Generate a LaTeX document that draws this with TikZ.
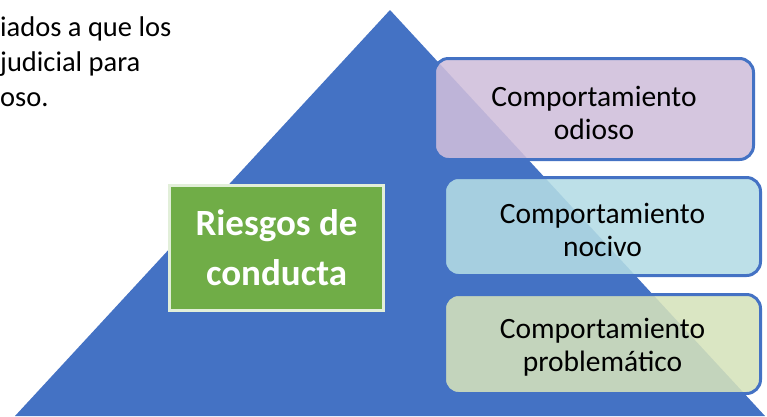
\documentclass[tikz,border=0pt]{standalone}
\usepackage{fontspec}
\setmainfont{Carlito}
\usetikzlibrary{positioning}
\definecolor{pyrblue}{HTML}{4472C4}
\definecolor{riskgreen}{HTML}{70AD47}
\definecolor{greenrim}{HTML}{E2EFD9}
\definecolor{odiofill}{RGB}{207,190,219}
\definecolor{nocifill}{RGB}{180,220,229}
\definecolor{probfill}{RGB}{213,226,187}

\begin{document}
\begin{tikzpicture}[x=1pt, y=-1pt,
  level/.style={draw=pyrblue, line width=3pt, rounded corners=14pt, fill opacity=0.88,
    inner sep=0pt, minimum width=316pt, minimum height=99pt},
  lvltext/.style={align=center, inner sep=0pt, font=\fontsize{29.5}{33}\selectfont},
  core/.style={draw=greenrim, line width=3pt, fill=riskgreen, text=white, align=center, inner sep=0pt,
    minimum width=214pt, minimum height=125pt, font=\bfseries\fontsize{37}{50}\selectfont},
  note/.style={anchor=north west, align=left, inner sep=0pt, font=\fontsize{28.5}{35}\selectfont}]
\useasboundingbox (0,0) rectangle (767,416);
% ---------------- pyramid and cut-off text
\fill[pyrblue] (390,10) -- (765,416) -- (15,416) -- cycle;
\node[note] (txt) at (0,17) {iados a que los\\ judicial para\\ oso.};
% ---------------- levels
\node[level, fill=odiofill, minimum width=319pt, minimum height=101pt] (odio) at (594,109) {};
\node[level, fill=nocifill, minimum height=98pt] (noci) at (602.5,226.5) {};
\node[level, fill=probfill] (prob) at (602.5,344) {};
\node[lvltext] (odiotxt) at ([yshift=-4pt]odio.center) {Comportamiento\\ odioso};
\node[lvltext] (nocitxt) at ([yshift=-3pt]noci.center) {Comportamiento\\ nocivo};
\node[lvltext] (probtxt) at ([yshift=-3pt]prob.center) {Comportamiento\\ problemático};
% ---------------- core box
\node[core] (risk) at (276.5,248) {Riesgos de\\ conducta};
\end{tikzpicture}
\end{document}
